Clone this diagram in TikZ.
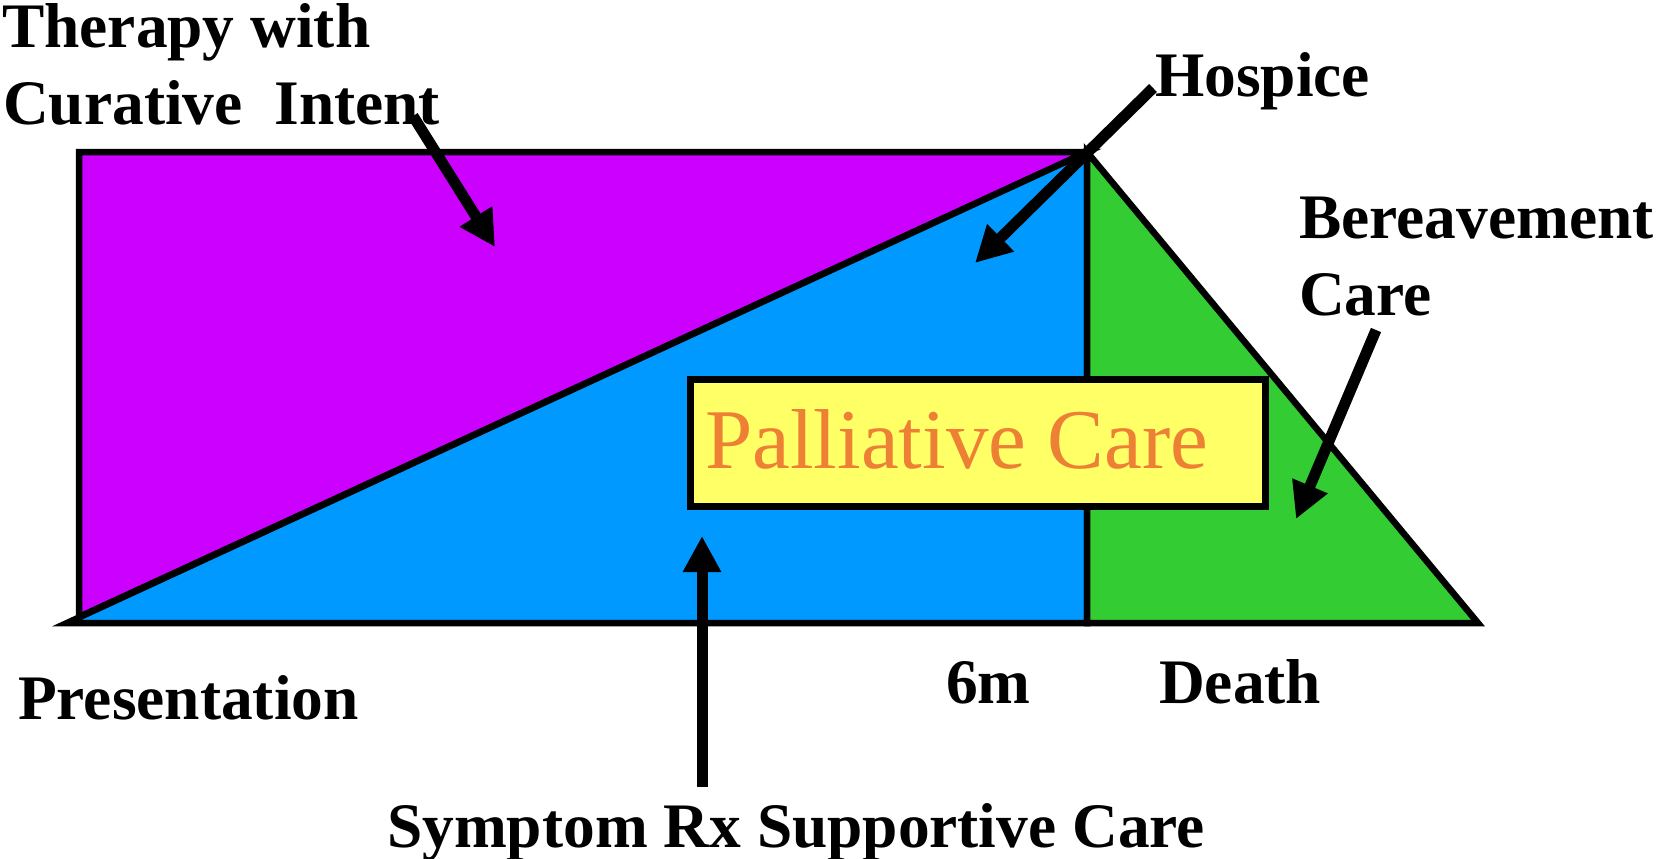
\documentclass[tikz,border=0pt]{standalone}
\usepackage{fontspec}
\setmainfont{Liberation Serif}
\usetikzlibrary{arrows.meta}
\definecolor{cpurple}{RGB}{204,0,255}
\definecolor{cblue}{RGB}{0,153,255}
\definecolor{cgreen}{RGB}{51,204,51}
\definecolor{cyellow}{RGB}{255,255,102}
\definecolor{corange}{RGB}{238,128,54}
\tikzset{
  region/.style={draw=black, line width=6.5pt, line join=miter},
  lbl/.style={inner sep=0pt, anchor=base west, font=\fontsize{63.4}{76}\selectfont\bfseries},
  pointer/.style={line width=11pt, -{Triangle[length=36pt,width=36pt]}, shorten >=0pt}
}
\begin{document}
\begin{tikzpicture}[x=1pt,y=-1pt]
\useasboundingbox (0,0) rectangle (1657,859);
% regions
\filldraw[region, fill=cpurple] (79,152) -- (1087,152) -- (79,617) -- cycle;
\filldraw[region, fill=cblue] (67,623) -- (1087,152) -- (1087,623) -- cycle;
\filldraw[region, fill=cgreen] (1087,152) -- (1478,623) -- (1087,623) -- cycle;
% palliative care box
\node[draw=black, line width=6.5pt, fill=cyellow, minimum width=575pt, minimum height=127pt,
      inner sep=0pt, anchor=north west] (pc) at (687,376) {};
\node[inner sep=0pt, anchor=base west, text=corange, font=\fontsize{85}{100}\selectfont] (pct) at (705,468) {Palliative Care};
% labels
\node[lbl] (ther1) at (2,48) {Therapy with};
\node[lbl] (ther2) at (3,124) {Curative~~Intent};
\node[lbl] (hosp) at (1155,96) {Hospice};
\node[lbl] (ber1) at (1299,238) {Bereavement};
\node[lbl] (ber2) at (1299,315) {Care};
\node[lbl] (pres) at (18,719) {Presentation};
\node[lbl] (six) at (946,703) {6m};
\node[lbl] (death) at (1159,703) {Death};
\node[lbl] (symp) at (387,847) {Symptom Rx Supportive Care};
% arrow coordinates
\coordinate (a1s) at (413,116);
\coordinate (a1e) at (495,247);
\coordinate (a2s) at (1153,88);
\coordinate (a2e) at (975,263);
\coordinate (a3s) at (1376,330);
\coordinate (a3e) at (1296,519);
\coordinate (a4s) at (702,787);
\coordinate (a4e) at (702,536);
\draw[pointer] (a1s) -- (a1e);
\draw[pointer] (a2s) -- (a2e);
\draw[pointer] (a3s) -- (a3e);
\draw[pointer] (a4s) -- (a4e);
\end{tikzpicture}
\end{document}
